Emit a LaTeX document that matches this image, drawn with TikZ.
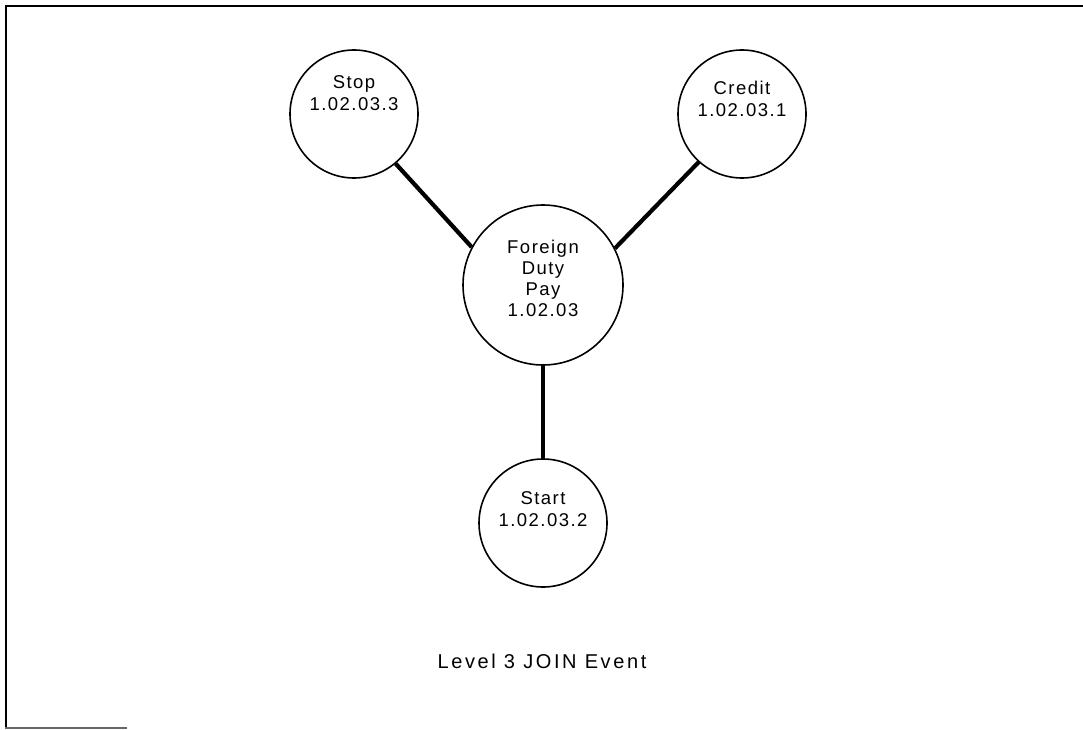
\documentclass[tikz,border=0pt]{standalone}
\usepackage{fontspec}
\newfontfamily\lblfont[LetterSpace=8]{Liberation Sans}
\newfontfamily\capfont[LetterSpace=13]{Liberation Sans}
\begin{document}
\begin{tikzpicture}[x=1pt,y=-1pt,
  bubble/.style={circle,draw,line width=1.6pt,inner sep=0pt},
  bubtext/.style={align=center,font=\lblfont\fontsize{18.5}{22}\selectfont,inner sep=0pt},
  joint/.style={line width=4.2pt}]
\useasboundingbox (0,0) rectangle (1083,730);
% frame
\draw[line width=2.6pt] (6,729) -- (6,6) -- (1083,6);
\draw[line width=1.2pt,black!60] (5,728) -- (127,728);
% circles
\node[bubble,minimum size=128pt] (stop) at (354,114) {};
\node[bubble,minimum size=128pt] (credit) at (742,114) {};
\node[bubble,minimum size=160pt] (fdp) at (543,285) {};
\node[bubble,minimum size=128pt] (start) at (543,523) {};
% texts
\node[bubtext] (stopt) at (354,93) {Stop\\1.02.03.3};
\node[bubtext] (creditt) at (742,99) {Credit\\1.02.03.1};
\node[bubtext,font=\lblfont\fontsize{18.5}{21}\selectfont] (fdpt) at (543,278) {Foreign\\Duty\\Pay\\1.02.03};
\node[bubtext] (startt) at (543,509) {Start\\1.02.03.2};
\node[inner sep=0pt,font=\capfont\fontsize{20}{22}\selectfont] (cap) at (542,661) {Level 3 JOIN Event};
% connectors
\draw[joint] (stop.-50) -- (fdp.152);
\draw[joint] (credit.228) -- (fdp.27.5);
\draw[joint] (fdp.south) -- (start.north);
\end{tikzpicture}
\end{document}
